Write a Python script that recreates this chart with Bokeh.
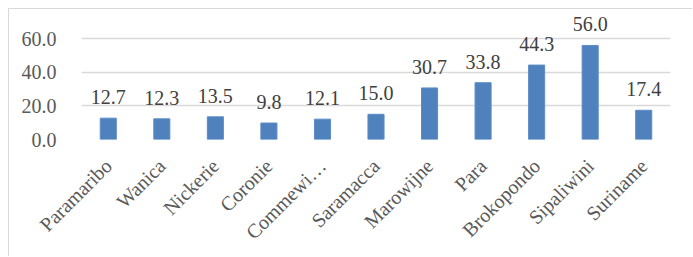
import math
from bokeh.plotting import figure
from bokeh.models import ColumnDataSource, FixedTicker, NumeralTickFormatter, LabelSet, Range1d
from bokeh.embed import file_html
from bokeh.resources import INLINE

districts = ["Paramaribo", "Wanica", "Nickerie", "Coronie", "Commewi…", "Saramacca",
             "Marowijne", "Para", "Brokopondo", "Sipaliwini", "Suriname"]
values = [12.7, 12.3, 13.5, 9.8, 12.1, 15.0, 30.7, 33.8, 44.3, 56.0, 17.4]
value_labels = ["%.1f" % v for v in values]
y_ticks = [0, 20, 40, 60]

src = ColumnDataSource(dict(x=districts, top=values, lab=value_labels))

FONT = "Liberation Serif"

p = figure(x_range=districts, y_range=Range1d(0, 76.8), width=684, height=248,
           output_backend="svg", toolbar_location=None,
           min_border_left=72, min_border_right=23, min_border_top=1, min_border_bottom=118)
p.styles = {"margin-left": "8px", "margin-top": "8px",
            "border-left": "1px solid #d9d9d9", "border-top": "1px solid #d9d9d9"}
p.outline_line_color = None
p.background_fill_color = "white"

p.vbar(x="x", top="top", width=0.3, source=src, fill_color="#4f81bd", line_color="#5b8cc6", line_width=1)

labels = LabelSet(x="x", y="top", text="lab", source=src, text_align="center",
                  text_baseline="alphabetic", y_offset=14, text_font=FONT,
                  text_font_size="20px", text_color="#404040")
p.add_layout(labels)

p.yaxis.ticker = FixedTicker(ticks=y_ticks)
p.yaxis.formatter = NumeralTickFormatter(format="0.0")
p.yaxis.axis_line_color = None
p.yaxis.major_tick_line_color = None
p.yaxis.minor_tick_line_color = None
p.yaxis.major_label_standoff = 19
p.yaxis.major_label_text_font = FONT
p.yaxis.major_label_text_font_size = "20px"
p.yaxis.major_label_text_color = "#595959"

p.xaxis.axis_line_color = None
p.xaxis.major_tick_line_color = None
p.xaxis.minor_tick_line_color = None
p.xaxis.major_label_orientation = math.pi / 4
p.xaxis.major_label_standoff = 17
p.xaxis.major_label_text_font = FONT
p.xaxis.major_label_text_font_size = "20px"
p.xaxis.major_label_text_color = "#595959"

p.xgrid.grid_line_color = None
p.ygrid.grid_line_color = "#d9d9d9"
p.ygrid.grid_line_width = 1.5

open("out.html", "w").write(file_html(p, INLINE))
